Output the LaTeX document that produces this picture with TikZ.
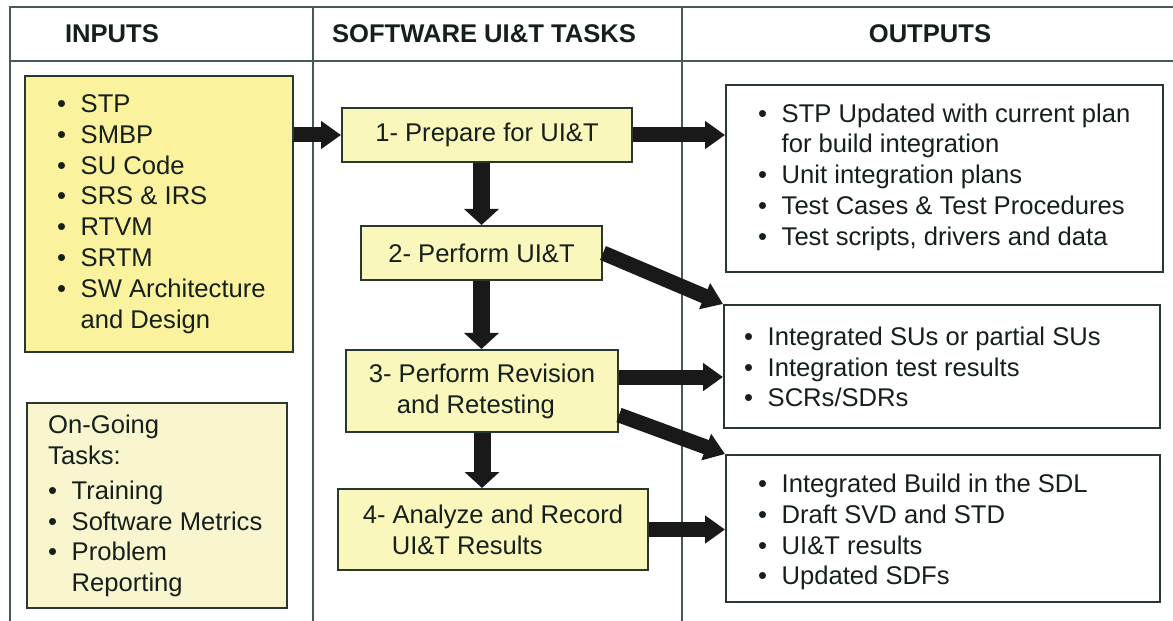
\documentclass[tikz,border=0pt]{standalone}
\usepackage{fontspec}
\setmainfont{Liberation Sans}
\usetikzlibrary{arrows.meta}

\definecolor{frameline}{RGB}{70,92,80}
\definecolor{boxline}{RGB}{40,56,46}
\definecolor{inputfill}{RGB}{250,242,156}
\definecolor{taskfill}{RGB}{250,247,188}
\definecolor{ongoingfill}{RGB}{248,245,207}
\definecolor{inktext}{RGB}{22,32,26}

\newcommand{\bul}[1]{\makebox[23.5bp][l]{\textbullet}#1}
\newcommand{\bulpad}{\hspace*{23.5bp}}

\tikzset{
  txt/.style={font=\fontsize{25.7}{30.9}\selectfont, text=inktext, inner sep=0pt},
  heading/.style={txt, font=\fontsize{25.7}{30.9}\selectfont\bfseries},
  listtext/.style={txt, align=left, anchor=west},
  box/.style={draw=boxline, line width=2bp, inner sep=0pt},
  taskbox/.style={box, fill=taskfill, txt, align=left},
  flow/.style={line width=15bp, draw=black!90, -{Triangle[length=20bp,width=27bp]}},
  downflow/.style={line width=17bp, draw=black!90, -{Triangle[length=16bp,width=34bp]}},
}

\begin{document}
\begin{tikzpicture}[x=1bp,y=-1bp]
  \useasboundingbox (0,0) rectangle (1173,621);

  % table frame and column headings
  \draw[frameline, line width=2bp] (10,621) -- (10,7) -- (1173,7);
  \draw[frameline, line width=2bp] (10,61) -- (1173,61);
  \draw[frameline, line width=1.5bp] (313,7) -- (313,621) (682,7) -- (682,621);
  \node[heading] (hin) at (112,34) {INPUTS};
  \node[heading] (htask) at (484,34) {SOFTWARE UI\&T TASKS};
  \node[heading] (hout) at (930,34) {OUTPUTS};

  % inputs column
  \node[box, fill=inputfill, minimum width=268bp, minimum height=276bp] (inputs) at (159,214) {};
  \node[listtext] (inputs-list) at (57,214) {\bul{STP}\\ \bul{SMBP}\\ \bul{SU Code}\\ \bul{SRS \& IRS}\\ \bul{RTVM}\\ \bul{SRTM}\\ \bul{SW Architecture}\\ \bulpad and Design};
  \node[box, fill=ongoingfill, minimum width=260bp, minimum height=205bp] (ongoing) at (157,505.5) {};
  \node[listtext] (ongoing-list) at (48,506) {On-Going\\ Tasks:\\[4bp] \bul{Training}\\ \bul{Software Metrics}\\ \bul{Problem}\\ \bulpad Reporting};

  % task column
  \node[taskbox, minimum width=290bp, minimum height=54bp] (t1) at (487,135) {1- Prepare for UI\&T};
  \node[taskbox, minimum width=241bp, minimum height=54bp] (t2) at (481.5,253) {2- Perform UI\&T};
  \node[taskbox, minimum width=272bp, minimum height=82bp] (t3) at (482,391) {3- Perform Revision\\ \hspace*{28bp}and Retesting};
  \node[taskbox, minimum width=310bp, minimum height=81bp] (t4) at (493,529.5) {4- Analyze and Record\\ \hspace*{29bp}UI\&T Results};

  % outputs column
  \node[box, fill=white, minimum width=437bp, minimum height=187bp] (o1) at (944.5,178.5) {};
  \node[listtext] (o1-list) at (758,177) {\bul{STP Updated with current plan}\\ \bulpad for build integration\\ \bul{Unit integration plans}\\ \bul{Test Cases \& Test Procedures}\\ \bul{Test scripts, drivers and data}};
  \node[box, fill=white, minimum width=436bp, minimum height=123bp] (o2) at (942,366.5) {};
  \node[listtext] (o2-list) at (744,367) {\bul{Integrated SUs or partial SUs}\\ \bul{Integration test results}\\ \bul{SCRs/SDRs}};
  \node[box, fill=white, minimum width=434bp, minimum height=147bp] (o3) at (943,528.5) {};
  \node[listtext] (o3-list) at (758,532) {\bul{Integrated Build in the SDL}\\ \bul{Draft SVD and STD}\\ \bul{UI\&T results}\\ \bul{Updated SDFs}};

  % arrows
  \draw[flow] (inputs.east |- t1.west) -- (t1.west);
  \draw[flow] (t1.east) -- (t1.east -| o1.west);
  \draw[downflow] (t2.north |- t1.south) -- (t2.north);
  \draw[flow] (t2.east) -- (o2.north west);
  \draw[downflow] (t2.south) -- (t2.south |- t3.north);
  \coordinate (t3up) at ([yshift=14bp]t3.east);
  \coordinate (t3dn) at ([yshift=-24bp]t3.east);
  \draw[flow] (t3up) -- (t3up -| o2.west);
  \draw[flow] (t3dn) -- (o3.north west);
  \draw[downflow] (t3.south) -- (t3.south |- t4.north);
  \draw[flow] (t4.east) -- (t4.east -| o3.west);

\end{tikzpicture}
\end{document}
